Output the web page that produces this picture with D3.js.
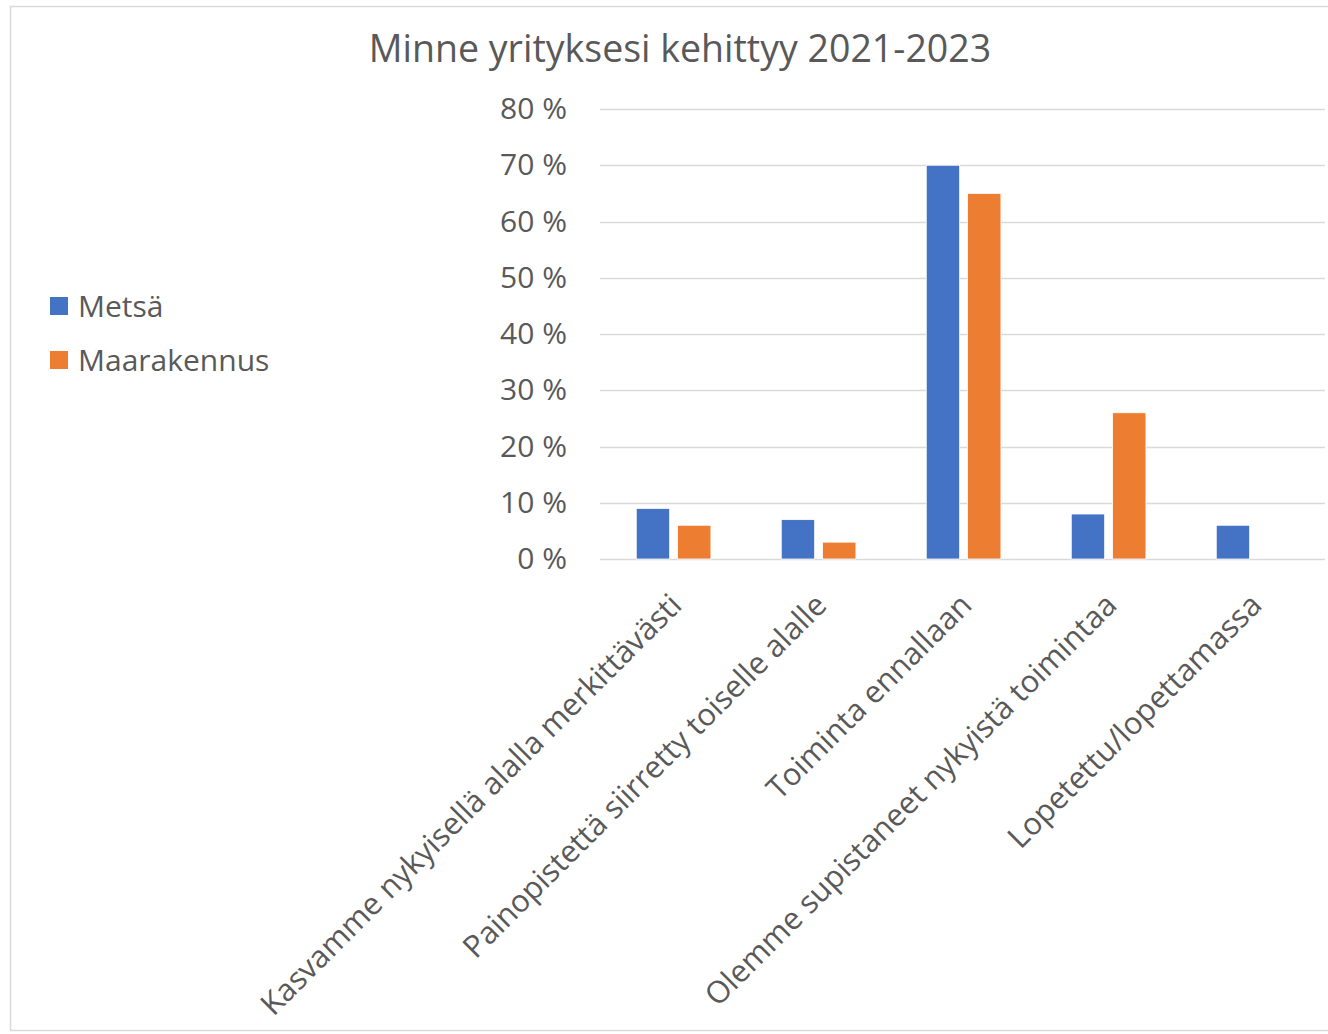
<!DOCTYPE html>
<html>
<head>
<meta charset="utf-8">
<script src="https://cdn.jsdelivr.net/npm/d3@7"></script>
<style>
  html, body { margin: 0; padding: 0; background: #fff; }
  svg { display: block; }
  text { font-family: "Open Sans", Lato, sans-serif; fill: #595959; }
</style>
</head>
<body>
<svg id="chart" width="1328" height="1034"></svg>
<script>
const title = "Minne yrityksesi kehittyy 2021-2023";
const categories = [
  "Kasvamme nykyisellä alalla merkittävästi",
  "Painopistettä siirretty toiselle alalle",
  "Toiminta ennallaan",
  "Olemme supistaneet nykyistä toimintaa",
  "Lopetettu/lopettamassa"
];
const seriesNames = ["Metsä", "Maarakennus"];
const metsa = [0.09, 0.07, 0.70, 0.08, 0.06];
const maarakennus = [0.06, 0.03, 0.65, 0.26, 0.00];
const yTicks = [0, 0.1, 0.2, 0.3, 0.4, 0.5, 0.6, 0.7, 0.8];
const colors = ["#4472C4", "#ED7D31"];

const series = [metsa, maarakennus];
const svg = d3.select("#chart");
const W = 1328, H = 1034;
const FONT = "'Open Sans', Lato, sans-serif";

// frame
svg.append("rect").attr("x", 10.5).attr("y", 6.5).attr("width", W).attr("height", H - 10)
  .attr("fill", "#fff").attr("stroke", "#d9d9d9").attr("stroke-width", 1.5);

const plot = { left: 600, right: 1325, top: 109, bottom: 559 };

const x = d3.scaleBand().domain(categories).range([plot.left, plot.right]).paddingInner(0).paddingOuter(0);
const bw = x.bandwidth();
const x1 = d3.scaleBand().domain(seriesNames)
  .range([bw * 0.25, bw * 0.765]).paddingInner(0.19).paddingOuter(0);
const y = d3.scaleLinear().domain([0, 0.8]).range([plot.bottom, plot.top]);

// title
svg.append("text").attr("x", 680).attr("y", 62).attr("text-anchor", "middle")
  .style("font-size", "37.5px").text(title);

// gridlines
svg.append("g").selectAll("line").data(yTicks).join("line")
  .attr("x1", plot.left).attr("x2", plot.right)
  .attr("y1", d => Math.round(y(d)) + 0.5).attr("y2", d => Math.round(y(d)) + 0.5)
  .attr("stroke", "#d9d9d9").attr("stroke-width", 1.5);

// y axis labels
const yAxis = d3.axisLeft(y).tickValues(yTicks).tickSize(0).tickPadding(33)
  .tickFormat(d => Math.round(d * 100) + " %");
const gy = svg.append("g").attr("transform", `translate(${plot.left},0)`).call(yAxis);
gy.select(".domain").remove();
gy.selectAll("text").style("font-size", "30px").style("fill", "#595959")
  .style("font-family", FONT);

// bars
const groups = svg.append("g").selectAll("g").data(categories).join("g")
  .attr("transform", d => `translate(${x(d)},0)`);
groups.selectAll("rect").data((c, i) => seriesNames.map((s, j) => ({ s, v: series[j][i], j })))
  .join("rect")
  .attr("x", d => x1(d.s))
  .attr("width", x1.bandwidth())
  .attr("y", d => y(d.v))
  .attr("height", d => y(0) - y(d.v))
  .attr("fill", d => colors[d.j])
  .attr("stroke", "#fff").attr("stroke-width", 0.8)
  .style("display", d => d.v > 0 ? null : "none");

// x axis labels
const xAxis = d3.axisBottom(x).tickSize(0).tickPadding(0);
const gx = svg.append("g").attr("transform", `translate(0,${plot.bottom})`).call(xAxis);
gx.select(".domain").remove();
gx.selectAll("text")
  .attr("text-anchor", "end")
  .attr("dy", null).attr("y", null)
  .attr("transform", "translate(11,48) rotate(-45)")
  .style("font-size", "30.7px").style("fill", "#595959")
  .style("font-family", FONT);

// legend
const legend = svg.append("g").selectAll("g").data(seriesNames).join("g")
  .attr("transform", (d, i) => `translate(50,${297 + i * 54})`);
legend.append("rect").attr("width", 18).attr("height", 18).attr("fill", (d, i) => colors[i]);
legend.append("text").attr("x", 28).attr("y", 19.5).style("font-size", "30px").text(d => d);
</script>
</body>
</html>
